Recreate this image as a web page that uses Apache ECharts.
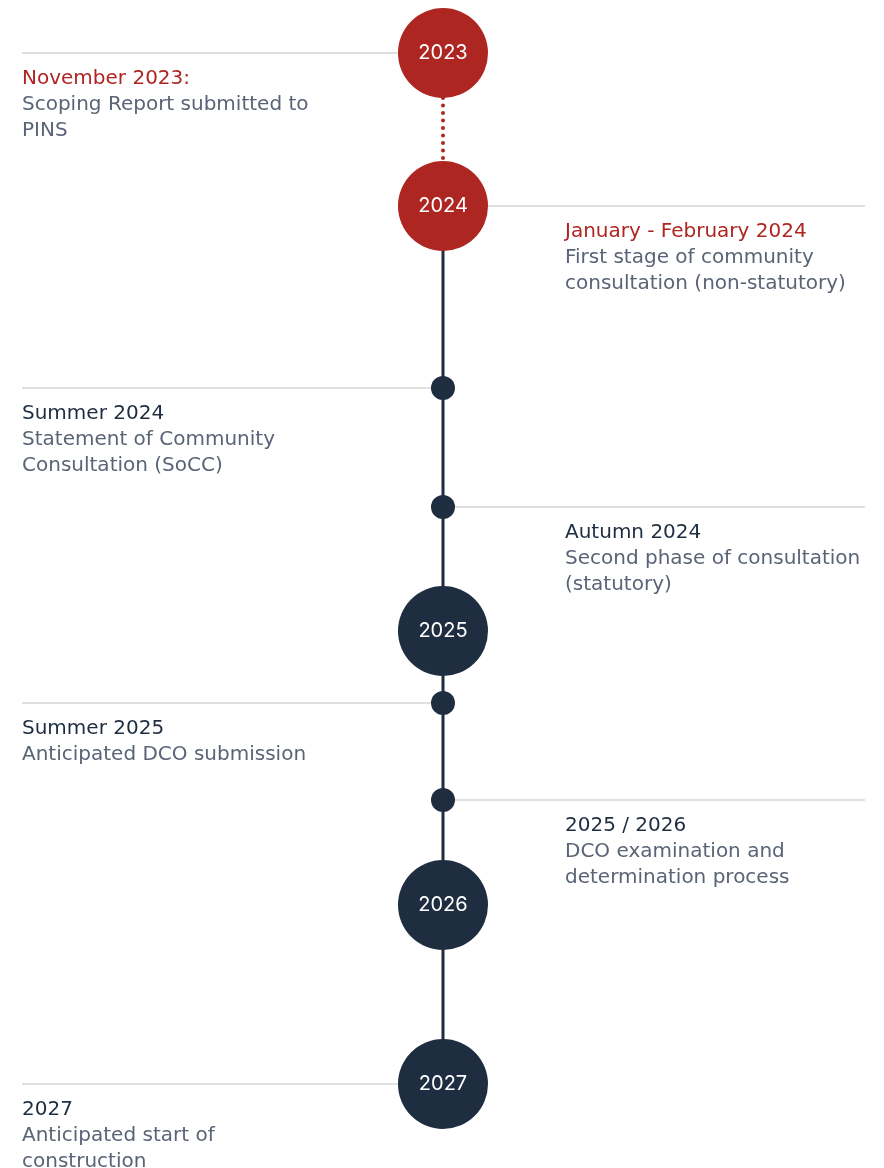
<!DOCTYPE html>
<html>
<head>
<meta charset="utf-8">
<script src="https://cdn.jsdelivr.net/npm/echarts@6/dist/echarts.min.js"></script>
<style>
  html, body { margin: 0; padding: 0; background: #ffffff; }
  #chart { width: 884px; height: 1168px; }
</style>
</head>
<body>
<div id="chart"></div>
<script>
// timeline data: position along the timeline (top = 0)
const years = ['2023', '2024', '2025', '2026', '2027']
const yearPos = [53, 206, 631, 905, 1084]
const yearHighlighted = [true, true, false, false, false]

const milestonePos = [388, 507, 703, 800]

const eventPos = [53, 206, 388, 507, 703, 800, 1084]
const eventSide = ['left', 'right', 'left', 'right', 'left', 'right', 'left']
const eventHighlighted = [true, true, false, false, false, false, false]
const eventTitles = [
  'November 2023:',
  'January - February 2024',
  'Summer 2024',
  'Autumn 2024',
  'Summer 2025',
  '2025 / 2026',
  '2027'
]
const eventTexts = [
  'Scoping Report submitted to\nPINS',
  'First stage of community\nconsultation (non-statutory)',
  'Statement of Community\nConsultation (SoCC)',
  'Second phase of consultation\n(statutory)',
  'Anticipated DCO submission',
  'DCO examination and\ndetermination process',
  'Anticipated start of\nconstruction'
]

const RED = '#ad2622'
const NAVY = '#1f2d40'
const GREY_TEXT = '#5a6476'
const RULE = '#d6d6d6'
const FONT = '"DejaVu Sans", sans-serif'
const CX = 443

const chart = echarts.init(document.getElementById('chart'), null, { renderer: 'canvas' })

chart.setOption({
  animation: false,
  backgroundColor: '#ffffff',
  grid: { left: 0, right: 0, top: 0, bottom: 0 },
  xAxis: { type: 'value', min: 0, max: 884, show: false },
  yAxis: { type: 'value', min: 0, max: 1168, inverse: true, show: false },
  series: [
    {
      // horizontal rules and event texts
      type: 'custom',
      z: 1,
      data: eventPos.map((p, i) => [p, i]),
      renderItem (params, api) {
        const i = api.value(1)
        const pt = api.coord([CX, api.value(0)])
        const left = eventSide[i] === 'left'
        const x0 = left ? api.coord([22, 0])[0] : pt[0]
        const x1 = left ? pt[0] : api.coord([865, 0])[0]
        const tx = left ? 22 : 565
        return {
          type: 'group',
          children: [
            {
              type: 'line',
              shape: { x1: x0, y1: pt[1], x2: x1, y2: pt[1] },
              style: { stroke: RULE, lineWidth: 1.5 }
            },
            {
              type: 'text',
              x: tx,
              y: pt[1] + 13,
              style: {
                text: '{t|' + eventTitles[i] + '}\n{d|' + eventTexts[i].split('\n').join('}\n{d|') + '}',
                rich: {
                  t: { fontFamily: FONT, fontSize: 20, lineHeight: 26, fill: eventHighlighted[i] ? RED : NAVY },
                  d: { fontFamily: FONT, fontSize: 20, lineHeight: 26, fill: GREY_TEXT }
                },
                verticalAlign: 'top',
                align: 'left'
              }
            }
          ]
        }
      }
    },
    {
      type: 'line',
      z: 2,
      symbol: 'none',
      data: [[CX, yearPos[0]], [CX, yearPos[1]]],
      lineStyle: { color: RED, width: 4, type: [0, 7.5], cap: 'round' }
    },
    {
      type: 'line',
      z: 2,
      symbol: 'none',
      data: [[CX, yearPos[1]], [CX, yearPos[yearPos.length - 1]]],
      lineStyle: { color: NAVY, width: 3 }
    },
    {
      type: 'scatter',
      z: 3,
      symbolSize: 24,
      data: milestonePos.map(p => [CX, p]),
      itemStyle: { color: NAVY, opacity: 1 }
    },
    {
      type: 'scatter',
      z: 4,
      symbolSize: 90,
      data: yearPos.map((p, i) => ({
        value: [CX, p],
        itemStyle: { color: yearHighlighted[i] ? RED : NAVY, opacity: 1 },
        label: { formatter: years[i] }
      })),
      label: {
        show: true,
        position: 'inside',
        color: '#ffffff',
        fontFamily: 'Inter, sans-serif',
        fontSize: 20
      }
    }
  ]
})
</script>
</body>
</html>
